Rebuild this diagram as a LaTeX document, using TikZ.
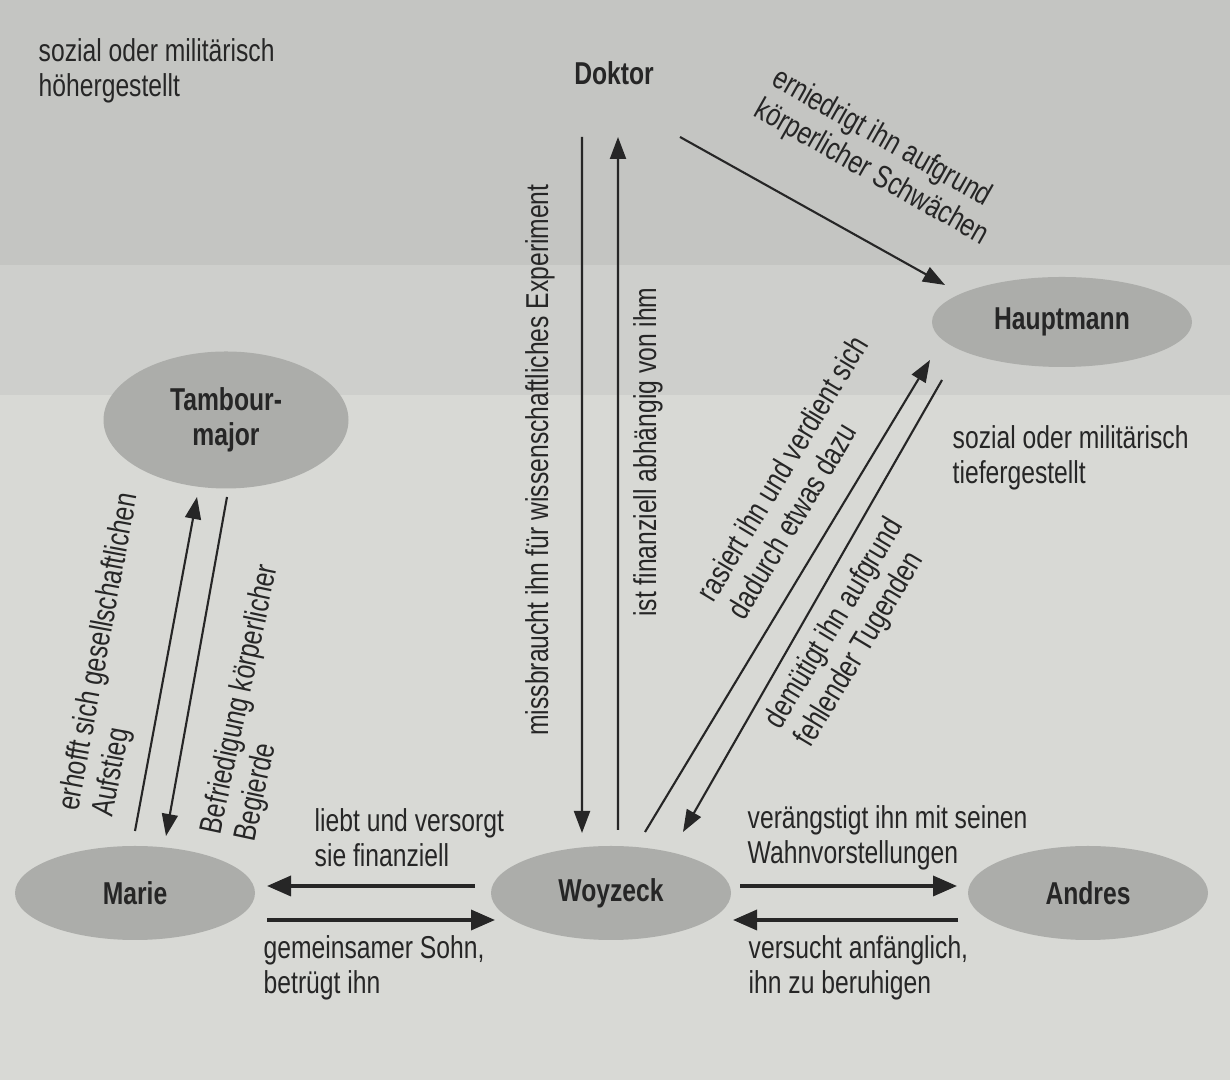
\documentclass[tikz,border=0pt]{standalone}
\usepackage{fontspec}
\setmainfont[FakeStretch=0.78]{Liberation Sans}
\usepackage{tikz}
\usetikzlibrary{arrows.meta,positioning,shapes.geometric,calc}
\definecolor{bandtop}{RGB}{196,197,194}
\definecolor{bandmid}{RGB}{206,207,204}
\definecolor{bandlow}{RGB}{216,217,213}
\definecolor{ellgray}{RGB}{172,173,170}
\definecolor{ink}{RGB}{38,38,38}
\tikzset{
  person/.style={ellipse,fill=ellgray,inner sep=0pt,minimum width=2.4cm,minimum height=0.94cm,font=\fontsize{9}{10}\selectfont\bfseries,text=ink,align=center},
  lbl/.style={font=\fontsize{9}{10}\selectfont,text=ink,align=left,inner sep=0pt},
  arr/.style={-{Triangle[length=2.2mm,width=1.6mm]},draw=ink,line width=0.6pt},
  harr/.style={-{Triangle[length=2.4mm,width=2mm]},draw=ink,line width=1pt},
}

\begin{document}
\begin{tikzpicture}
\useasboundingbox (0,0) rectangle (12.3,10.8);
% Hintergrundstreifen
\fill[bandtop] (0,8.15) rectangle (12.3,10.8);
\fill[bandmid] (0,6.85) rectangle (12.3,8.15);
\fill[bandlow] (0,0) rectangle (12.3,6.85);
% Figuren
\node[person,fill=none] (dok) at (6.14,10.07) {Doktor};
\node[person,minimum width=2.6cm,minimum height=0.9cm] (haupt) at (10.62,7.58) {Hauptmann};
\node[person,minimum width=2.45cm,minimum height=1.37cm] (tamb) at (2.26,6.60) {Tambour-\\major};
\node[person] (marie) at (1.35,1.87) {Marie};
\node[person] (woy) at (6.11,1.87) {Woyzeck};
\node[person] (andres) at (10.88,1.87) {Andres};
% Rangangaben
\node[lbl,anchor=west] (lhoch) at (0.38,10.09) {sozial oder militärisch\\höhergestellt};
\node[lbl,anchor=west] (ltief) at (9.52,6.22) {sozial oder militärisch\\tiefergestellt};
% Beziehungen
\draw[arr] ($(dok)+(0.66,-0.64)$) -- ($(haupt)+(-1.17,0.37)$);
\draw[arr] ($(dok)+(-0.32,-0.64)$) -- ($(woy)+(-0.29,0.60)$);
\draw[arr] ($(woy)+(0.07,0.63)$) -- ($(dok)+(0.04,-0.64)$);
\draw[arr] ($(woy)+(0.34,0.61)$) -- ($(haupt)+(-1.32,-0.38)$);
\draw[arr] ($(haupt)+(-1.20,-0.58)$) -- ($(woy)+(0.72,0.61)$);
\draw[arr] ($(marie)+(0,0.62)$) -- ($(tamb)+(-0.29,-0.77)$);
\draw[arr] ($(tamb)+(0.01,-0.77)$) -- ($(marie)+(0.31,0.57)$);
\draw[harr] ($(woy)+(-1.36,0.07)$) -- ($(marie)+(1.32,0.07)$);
\draw[harr] ($(marie)+(1.32,-0.27)$) -- ($(woy)+(-1.16,-0.27)$);
\draw[harr] ($(woy)+(1.29,0.07)$) -- ($(andres)+(-1.31,0.07)$);
\draw[harr] ($(andres)+(-1.30,-0.27)$) -- ($(woy)+(1.22,-0.27)$);
% Beschriftungen
\node[lbl,rotate=-29.5] (lernie) at (8.80,9.22) {erniedrigt ihn aufgrund\\körperlicher Schwächen};
\node[lbl,rotate=90] (lmiss) at (5.40,6.20) {missbraucht ihn für wissenschaftliches Experiment};
\node[lbl,rotate=90] (lfin) at (6.48,6.28) {ist finanziell abhängig von ihm};
\node[lbl,rotate=59] (lras) at (7.97,6.03) {rasiert ihn und verdient sich\\dadurch etwas dazu};
\node[lbl,rotate=59] (ldem) at (8.50,4.47) {demütigt ihn aufgrund\\fehlender Tugenden};
\node[lbl,rotate=79.5] (lhoff) at (1.17,4.25) {erhofft sich gesellschaftlichen\\Aufstieg};
\node[lbl,rotate=78] (lbegier) at (2.58,3.77) {Befriedigung körperlicher\\Begierde};
\node[lbl,anchor=west] (lliebt) at (3.14,2.42) {liebt und versorgt\\sie finanziell};
\node[lbl,anchor=west] (lsohn) at (2.63,1.12) {gemeinsamer Sohn,\\betrügt ihn};
\node[lbl,anchor=west] (langst) at (7.47,2.42) {verängstigt ihn mit seinen\\Wahnvorstellungen};
\node[lbl,anchor=west] (lruhig) at (7.48,1.12) {versucht anfänglich,\\ihn zu beruhigen};
\end{tikzpicture}
\end{document}
